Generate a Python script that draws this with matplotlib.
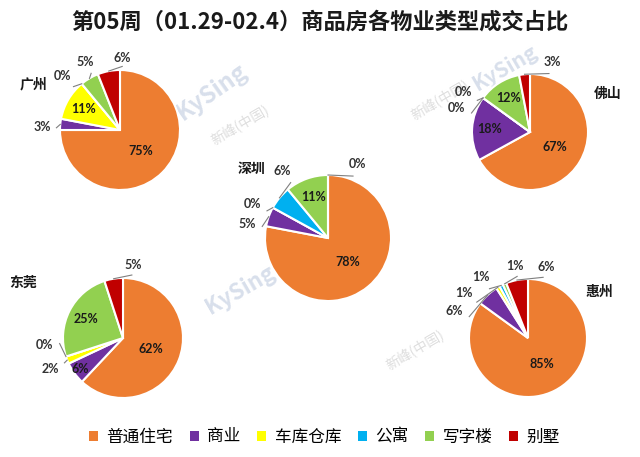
import numpy as np
import matplotlib
matplotlib.use('Agg')
import matplotlib.pyplot as plt
from matplotlib.patches import Patch

plt.rcParams['font.family'] = ['Noto Sans CJK SC', 'DejaVu Sans']

# data
categories = ['普通住宅', '商业', '车库仓库', '公寓', '写字楼', '别墅']
colors = ['#ED7D31', '#7030A0', '#FFFF00', '#00B0F0', '#92D050', '#C00000']

cities = ['广州', '佛山', '深圳', '东莞', '惠州']
guangzhou = [75, 3, 11, 0, 5, 6]
foshan = [67, 18, 0, 0, 12, 3]
shenzhen = [78, 5, 0, 6, 11, 0]
dongguan = [62, 6, 2, 0, 25, 5]
huizhou = [85, 6, 1, 1, 1, 6]
city_values = [guangzhou, foshan, shenzhen, dongguan, huizhou]

title = '第05周（01.29-02.4）商品房各物业类型成交占比'

# layout (pixels, y measured from top)
W, H = 640, 457
pie_centers = [(120, 130), (530, 132), (328, 238), (123, 338), (528, 338)]
pie_radius = [60, 58, 63, 60, 59]
city_label_pos = [(34, 84), (608, 94), (251, 169), (23, 283), (599, 292)]
inside_min = [10, 10, 10, 6, 10]
# angles (deg) where the outside labels sit, in slice order
outside_angles = [
    [178, 137, 117, 88],
    [162, 149, 72],
    [170, 156, 124, 68],
    [203, 185, 82],
    [160, 145, 128, 100, 76],
]

pct_font = ['Lato', 'DejaVu Sans']

fig = plt.figure(figsize=(6.4, 4.57), dpi=100)
fig.patch.set_facecolor('white')
ax = fig.add_axes([0, 0, 1, 1])

# faint watermarks
marks = [('KySing', 212, 92, 35, 17), ('KySing', 505, 68, 30, 15), ('KySing', 240, 290, 30, 16)]
for txt, x, y, rot, fs in marks:
    ax.text(x, H - y, txt, fontsize=fs, fontstyle='italic', fontweight='bold',
            color='#b9c6dc', alpha=0.55, rotation=rot, ha='center', va='center', zorder=0)
for x, y, rot in [(440, 100, 30), (415, 350, 30), (240, 125, 30)]:
    ax.text(x, H - y, '新峰(中国)', fontsize=10, color='#c8c8c8', alpha=0.6,
            rotation=rot, ha='center', va='center', zorder=0)

for values, (cx, cy), r, (lx, ly), thr, name, angs in zip(
        city_values, pie_centers, pie_radius, city_label_pos, inside_min, cities,
        outside_angles):
    center = (cx, H - cy)
    wedges, _ = ax.pie(values, colors=colors, startangle=90, counterclock=False,
                       center=center, radius=r,
                       wedgeprops=dict(edgecolor='white', linewidth=1.5))
    total = sum(values)
    outside = []
    for i, w in enumerate(wedges):
        mid = (w.theta1 + w.theta2) / 2
        pct = values[i] / total * 100
        label = f'{pct:.0f}%'
        if pct >= thr:
            if pct > 50:
                d = 0.5 * r
            elif pct >= 10:
                d = 0.7 * r
            else:
                d = 0.88 * r
            ax.text(center[0] + d * np.cos(np.radians(mid)),
                    center[1] + d * np.sin(np.radians(mid)),
                    label, ha='center', va='center', fontsize=9, family=pct_font,
                    fontweight='bold', color='#1a1a1a', zorder=5)
        else:
            outside.append((mid, label))
    for (mid, label), ang in zip(outside, angs):
        c, s = np.cos(np.radians(ang)), np.sin(np.radians(ang))
        p0 = (center[0] + r * np.cos(np.radians(mid)),
              center[1] + r * np.sin(np.radians(mid)))
        p1 = (center[0] + 1.06 * r * c, center[1] + 1.06 * r * s)
        ax.plot([p0[0], p1[0]], [p0[1], p1[1]], color='#7f7f7f', lw=0.8, zorder=4)
        d = 1.1 * r + 12 * abs(c) + 6 * abs(s)
        ax.text(center[0] + d * c, center[1] + d * s,
                label, ha='center', va='center', fontsize=9, family=pct_font,
                fontweight='bold', color='#333333', zorder=5)
    ax.text(lx, H - ly, name, ha='center', va='center', fontsize=10,
            fontweight='bold', color='#1a1a1a', zorder=5)

ax.set_xlim(0, W)
ax.set_ylim(0, H)
ax.set_aspect('equal')
ax.axis('off')

fig.text(0.5, 1 - 22 / H, title, ha='center', va='center', fontsize=16,
         fontweight='bold', color='#1a1a1a')

handles = [Patch(facecolor=c, edgecolor='none') for c in colors]
fig.legend(handles, categories, loc='center', bbox_to_anchor=(0.507, 1 - 437 / H),
           ncol=6, frameon=False, fontsize=12, handlelength=0.55, handleheight=0.55,
           handletextpad=0.5, columnspacing=1.0)

fig.savefig('out.png', dpi=100, facecolor='white')
